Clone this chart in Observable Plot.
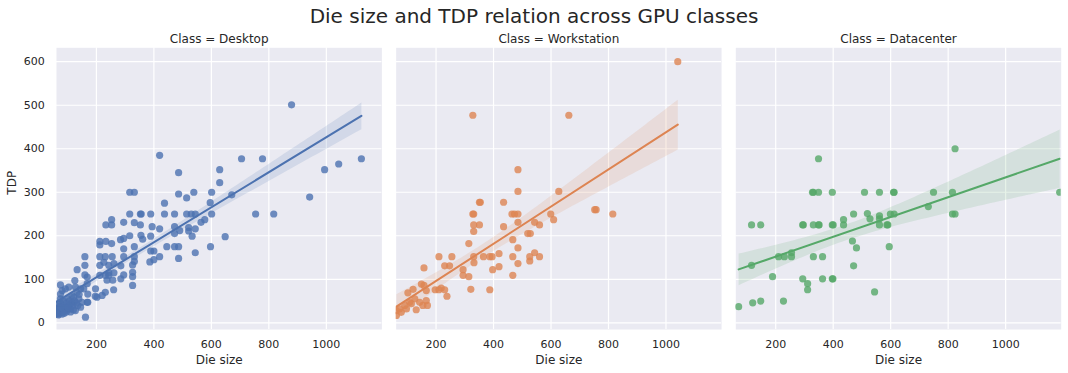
<!DOCTYPE html>
<html><head><meta charset="utf-8">
<script src="https://cdn.jsdelivr.net/npm/d3@7"></script>
<script src="https://cdn.jsdelivr.net/npm/@observablehq/plot@0.6"></script>
<style>
body{margin:0;background:#fff;font-family:"DejaVu Sans",sans-serif;}
#title{width:1068px;height:28px;line-height:32px;text-align:center;font-size:20px;color:#262626;white-space:nowrap;}
#chart svg{display:block;}
</style></head><body>
<div id="title">Die size and TDP relation across GPU classes</div>
<div id="chart"></div>
<script>
const classes = ["Desktop", "Workstation", "Datacenter"];
const classColors = ["#4C72B0", "#DD8452", "#55A868"];
const xTicks = [200, 400, 600, 800, 1000];
const yTicks = [0, 100, 200, 300, 400, 500, 600];

// [die size, TDP]
const desktop = [[420,385],[486,345],[629,352],[629,322],[316,300],[332,300],[486,296],[539,300],[601,300],[514,287],[437,275],[316,250],[353,250],[356,250],[389,250],[437,250],[472,250],[514,250],[530,250],[544,250],[601,250],[596,276],[253,237],[233,225],[253,225],[295,231],[332,230],[353,225],[394,221],[420,216],[472,221],[472,205],[490,212],[521,219],[521,211],[533,199],[544,216],[564,231],[577,237],[648,198],[316,200],[284,191],[295,194],[212,187],[212,179],[233,187],[253,182],[332,175],[355,201],[361,192],[389,199],[389,165],[400,165],[445,175],[472,175],[486,175],[420,152],[386,140],[400,145],[486,148],[544,161],[597,175],[671,294],[705,377],[754,250],[778,377],[817,250],[879,501],[942,289],[994,352],[1043,365],[1122,377],
[160,152],[212,152],[231,152],[255,152],[295,170],[295,152],[332,152],[332,141],[326,133],[212,132],[226,139],[243,132],[261,136],[160,132],[160,110],[133,122],[285,131],[326,116],[326,106],[326,86],[295,110],[285,101],[212,109],[231,109],[243,109],[237,98],[257,98],[243,115],[261,115],[197,78],[202,59],[220,63],[231,70],[260,76],[125,97],[75,87],[81,74],[92,78],[104,82],[127,82],[145,78],[133,70],[156,78],[168,90],[168,105],[75,55],[69,43],[64,32],[69,20],[81,20],[92,28],[104,40],[116,47],[121,59],[139,55],[150,47],[168,47],[145,36],[127,28],[110,32],[87,40],[162,13],[67,18],[67,32],[75,66],[98,32],[110,43],[81,24],[196,61],[170,66],[170,47],[62,25],[72,38],[85,30],[95,45],[100,55],[115,62],[130,45],[140,65],
[60,20],[65,25],[70,30],[78,35],[90,35],[100,30],[105,50],[118,40],[125,50],[135,40],[85,50],[95,25],[75,45],[110,25],[120,30],[63,22],[88,22],[102,35]];

const workstation = [[328,477],[485,352],[485,302],[627,302],[351,277],[354,277],[435,277],[328,250],[331,250],[464,250],[473,250],[485,250],[599,250],[609,237],[331,225],[351,225],[331,210],[435,221],[485,231],[543,231],[560,225],[519,205],[528,205],[467,191],[485,172],[314,182],[210,152],[255,152],[230,131],[247,131],[158,126],[331,152],[365,152],[387,152],[395,152],[419,159],[467,152],[332,138],[294,122],[294,109],[314,106],[397,122],[419,129],[485,136],[467,109],[526,152],[543,161],[560,152],[526,142],[321,77],[387,76],[197,76],[210,76],[218,80],[230,76],[238,61],[102,69],[120,77],[149,89],[158,86],[166,74],[126,55],[143,47],[108,47],[91,40],[73,32],[62,28],[62,17],[97,32],[131,30],[154,40],[170,40],[166,51],[114,44],[79,24],[662,477],[752,260],[757,260],[815,250],[1041,600]];

const datacenter = [[71,37],[116,132],[116,225],[148,225],[120,46],[148,50],[189,106],[210,152],[230,152],[255,161],[255,152],[227,50],[294,225],[296,225],[294,101],[311,90],[311,76],[328,300],[331,300],[349,300],[349,377],[331,225],[349,225],[351,225],[331,152],[363,152],[363,101],[397,101],[399,101],[397,300],[397,225],[400,225],[436,237],[436,225],[471,250],[467,188],[481,172],[471,131],[509,300],[519,251],[528,239],[561,300],[561,246],[561,239],[561,225],[587,225],[590,225],[595,175],[544,71],[610,300],[612,300],[599,250],[612,250],[731,267],[749,300],[815,300],[815,250],[824,250],[824,400],[1188,300]];

const series = [desktop, workstation, datacenter];
const data = series.flatMap((pts, i) => pts.map(([die, tdp]) => ({Class: classes[i], die, tdp})));

const ink = "#262626";
const chart = Plot.plot({
  width: 1068,
  height: 345,
  marginTop: 19.3,
  marginBottom: 44,
  marginLeft: 56,
  marginRight: 7.3,
  style: {fontFamily: "DejaVu Sans", fontSize: "11px", color: ink, background: "transparent"},
  fx: {domain: classes, paddingInner: 0.042, paddingOuter: 0, round: false},
  x: {domain: [61.2, 1193.3]},
  y: {domain: [-15.4, 632]},
  color: {domain: classes, range: classColors},
  marks: [
    Plot.frame({fill: "#EAEAF2", stroke: null}),
    Plot.gridX(xTicks, {stroke: "#fff", strokeOpacity: 1, strokeWidth: 1.2}),
    Plot.gridY(yTicks, {stroke: "#fff", strokeOpacity: 1, strokeWidth: 1.2}),
    Plot.dot(data, {x: "die", y: "tdp", fx: "Class", fill: "Class", r: 3.6, fillOpacity: 0.8, clip: "frame"}),
    Plot.linearRegressionY(data, {x: "die", y: "tdp", fx: "Class", stroke: "Class", fill: "Class", fillOpacity: 0.15, strokeWidth: 2, ci: 0.95, clip: "frame"}),
    Plot.axisX(xTicks, {tickSize: 0, tickPadding: 10.5, label: null, fontSize: 11, fill: ink, tickFormat: d => String(d)}),
    Plot.axisY(yTicks, {tickSize: 0, tickPadding: 11.7, label: null, fontSize: 11, fill: ink, tickFormat: d => String(d)}),
    Plot.axisFx({anchor: "top", tickSize: 0, tickPadding: 5, label: null, fontSize: 12, fill: ink, tickFormat: d => `Class = ${d}`}),
    Plot.text(classes, {fx: d => d, text: () => "Die size", frameAnchor: "bottom", dy: 34, fontSize: 12, fill: ink}),
    Plot.text(["TDP"], {fx: () => "Desktop", text: d => d, frameAnchor: "left", rotate: -90, dx: -44, dy: 6, fontSize: 12, fill: ink})
  ]
});
document.getElementById("chart").appendChild(chart);
</script>
</body></html>
